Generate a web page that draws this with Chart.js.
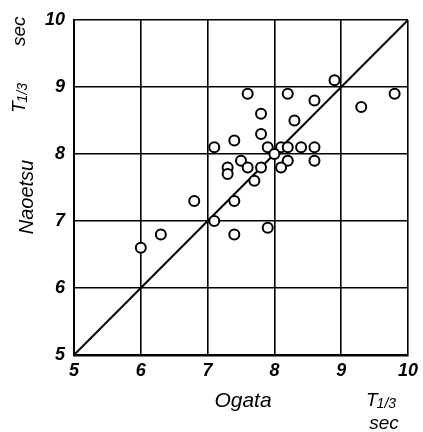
<!DOCTYPE html>
<html>
<head>
<meta charset="utf-8">
<script src="https://cdn.jsdelivr.net/npm/chart.js@4"></script>
<style>
  html, body { margin: 0; padding: 0; background: #fff; }
  #wrap { width: 423px; height: 432px; }
</style>
</head>
<body>
<div id="wrap"><canvas id="chart" width="423" height="432"></canvas></div>
<script>
// ── Data ───────────────────────────────────
const ogata   = [8.9, 7.6, 8.2, 8.6, 9.8, 9.3, 7.8, 8.3, 7.8, 7.4, 7.1, 7.9, 8.1, 8.2, 8.4, 8.6, 8.0,
                 7.5, 8.2, 8.6, 7.3, 7.3, 7.6, 7.8, 8.1, 7.7, 7.4, 7.1, 6.8, 6.3, 6.0, 7.4, 7.9];
const naoetsu = [9.1, 8.9, 8.9, 8.8, 8.9, 8.7, 8.6, 8.5, 8.3, 8.2, 8.1, 8.1, 8.1, 8.1, 8.1, 8.1, 8.0,
                 7.9, 7.9, 7.9, 7.8, 7.7, 7.8, 7.8, 7.8, 7.6, 7.3, 7.0, 7.3, 6.8, 6.6, 6.8, 6.9];
const diagonal = [5, 10];
const tickValues = [5, 6, 7, 8, 9, 10];

const font = '"Liberation Sans", Arial, sans-serif';

// ── Axis titles ────────────────────────────
function drawT13(ctx, x, y) {
    // "T" with a small "1/3" subscript, left aligned at x
    ctx.font = `italic 19px ${font}`;
    ctx.textAlign = 'left';
    ctx.fillText('T', x, y);
    const w = ctx.measureText('T').width;
    ctx.font = `italic 14px ${font}`;
    ctx.fillText('1/3', x + w - 1, y + 3);
}

const titles = {
    id: 'titles',
    afterDraw(chart) {
        const ctx = chart.ctx;
        ctx.save();
        ctx.fillStyle = '#000';
        ctx.textBaseline = 'middle';

        // x side
        ctx.font = `italic 21px ${font}`;
        ctx.textAlign = 'center';
        ctx.fillText('Ogata', 243, 401);
        drawT13(ctx, 366, 401);
        ctx.font = `italic 19px ${font}`;
        ctx.textAlign = 'center';
        ctx.fillText('sec', 384, 424);

        // y side (rotated)
        ctx.translate(27, 197);
        ctx.rotate(-Math.PI / 2);
        ctx.font = `italic 20px ${font}`;
        ctx.textAlign = 'center';
        ctx.fillText('Naoetsu', 0, 0);
        ctx.restore();

        ctx.save();
        ctx.fillStyle = '#000';
        ctx.textBaseline = 'middle';
        ctx.translate(20, 63);
        ctx.rotate(-Math.PI / 2);
        drawT13(ctx, -50, 0);
        ctx.font = `italic 19px ${font}`;
        ctx.textAlign = 'left';
        ctx.fillText('sec', 17, 0);
        ctx.restore();
    }
};

// ── Chart ──────────────────────────────────
const tickFont = { family: font, size: 18, style: 'italic', weight: 'bold' };

new Chart(document.getElementById('chart').getContext('2d'), {
    type: 'scatter',
    data: {
        datasets: [
            {
                data: ogata.map((x, i) => ({ x, y: naoetsu[i] })),
                pointRadius: 5,
                pointBorderWidth: 2,
                pointBackgroundColor: '#fff',
                pointBorderColor: '#000',
                order: 0
            },
            {
                type: 'line',
                data: diagonal.map(v => ({ x: v, y: v })),
                borderColor: '#000',
                borderWidth: 2,
                pointRadius: 0,
                order: 1
            }
        ]
    },
    plugins: [titles],
    options: {
        responsive: false,
        animation: false,
        layout: { padding: { left: 0, top: 20, right: 13, bottom: 0 } },
        plugins: { legend: { display: false }, tooltip: { enabled: false } },
        scales: {
            x: {
                type: 'linear', min: 5, max: 10,
                afterBuildTicks: s => { s.ticks = tickValues.map(value => ({ value })); },
                afterFit: s => { s.height = 77; },
                grid: { color: '#000', lineWidth: 1.6, drawTicks: false },
                border: { color: '#000', width: 2.5 },
                ticks: { color: '#000', font: tickFont, padding: 5, maxRotation: 0 }
            },
            y: {
                type: 'linear', min: 5, max: 10,
                afterBuildTicks: s => { s.ticks = tickValues.map(value => ({ value })); },
                afterFit: s => { s.width = 74; },
                grid: { color: '#000', lineWidth: 1.6, drawTicks: false },
                border: { color: '#000', width: 2 },
                ticks: { color: '#000', font: tickFont, padding: 9 }
            }
        }
    }
});
</script>
</body>
</html>
